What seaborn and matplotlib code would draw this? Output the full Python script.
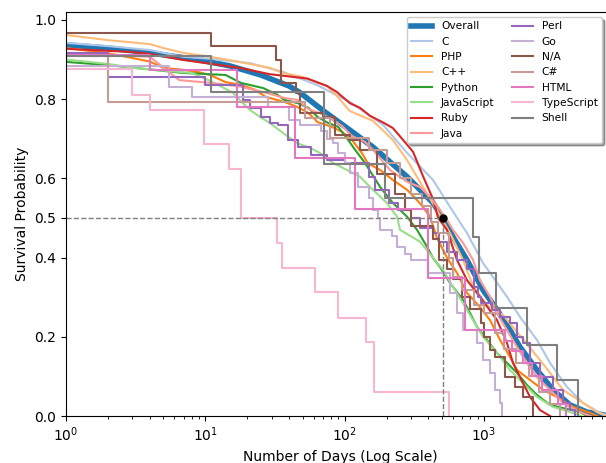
import numpy as np
import pandas as pd
import matplotlib
matplotlib.use("Agg")
import matplotlib.pyplot as plt
import seaborn as sns

# survival curves (days, survival probability)
overall_days = [1, 2, 4, 9, 15, 25, 40, 48, 72, 109, 160, 281, 431, 508, 600, 756, 986, 1243, 1540, 1817, 2405, 3133, 4150, 5495, 7160, 7800]
overall_surv = [0.937, 0.929, 0.917, 0.899, 0.884, 0.861, 0.833, 0.816, 0.768, 0.722, 0.679, 0.604, 0.538, 0.5, 0.452, 0.394, 0.318, 0.268, 0.217, 0.174, 0.116, 0.066, 0.028, 0.010, 0.003, 0.0]

c_days = [1, 2, 4, 6.9, 10.8, 20.9, 36, 63, 109, 189, 281, 431, 571, 756, 986, 1465, 1817, 2405, 2983, 3951, 5147, 6812, 8000]
c_surv = [0.942, 0.934, 0.924, 0.907, 0.902, 0.891, 0.869, 0.836, 0.793, 0.735, 0.664, 0.596, 0.528, 0.462, 0.386, 0.301, 0.25, 0.192, 0.134, 0.073, 0.033, 0.008, 0.0]

php_days = [1, 2, 4, 5, 6.9, 9, 10.8, 14, 18, 23, 27, 37, 46, 55, 64, 81, 96, 113, 133, 147,
            180, 222, 281, 331, 365, 410, 460, 543, 641, 756, 937, 1107, 1306, 1540, 1729, 2145, 2656, 3350, 4365, 5780, 6500]
php_surv = [0.929, 0.916, 0.895, 0.879, 0.874, 0.868, 0.861, 0.843, 0.836, 0.823, 0.806, 0.793, 0.78, 0.765, 0.742, 0.73, 0.717, 0.697, 0.664, 0.638,
            0.621, 0.596, 0.571, 0.545, 0.528, 0.503, 0.45, 0.40, 0.361, 0.311, 0.275, 0.242, 0.192, 0.149, 0.116, 0.091, 0.066, 0.048, 0.023, 0.008, 0.0]

cpp_days = [1, 2, 4, 5, 6.9, 10.8, 15.8, 29, 36, 50, 75, 88, 109, 160, 222, 281, 365, 460, 571, 708, 836, 1053, 1371, 1729, 2145, 2838, 3700, 5147, 6484, 7500]
cpp_surv = [0.962, 0.949, 0.939, 0.929, 0.917, 0.907, 0.897, 0.879, 0.866, 0.856, 0.833, 0.808, 0.770, 0.745, 0.697, 0.646, 0.578, 0.52, 0.462, 0.394, 0.328, 0.28, 0.255, 0.212, 0.172, 0.119, 0.066, 0.033, 0.01, 0.0]

python_days = [1, 2, 7, 14, 18, 26, 33, 37, 46, 55, 64, 76, 90, 106, 119, 140, 180, 222, 281, 331,
               391, 431, 484, 571, 708, 795, 892, 1053, 1243, 1465, 1729, 2039, 2405, 2983, 3700, 4900, 5500]
python_surv = [0.894, 0.886, 0.866, 0.861, 0.841, 0.828, 0.811, 0.798, 0.79, 0.778, 0.755, 0.74, 0.73, 0.697, 0.672, 0.639, 0.578, 0.538, 0.503, 0.47,
               0.427, 0.399, 0.376, 0.336, 0.293, 0.26, 0.225, 0.192, 0.159, 0.134, 0.109, 0.078, 0.053, 0.028, 0.02, 0.01, 0.0]

js_days = [1, 2, 3, 8, 11, 15.8, 18.6, 20.9, 24.7, 29, 36, 45.5, 56.5, 66.6, 82.6, 104, 129, 160, 201, 238, 250,
           348, 431, 508, 600, 708, 836, 986, 1243, 1540, 1908, 2405, 3133, 4150, 5000]
js_surv = [0.90, 0.889, 0.879, 0.866, 0.845, 0.816, 0.79, 0.773, 0.755, 0.74, 0.715, 0.689, 0.677, 0.664, 0.639, 0.621, 0.604, 0.571, 0.538, 0.503, 0.47,
           0.44, 0.40, 0.369, 0.326, 0.285, 0.242, 0.2, 0.159, 0.116, 0.083, 0.048, 0.023, 0.01, 0.0]

ruby_days = [1, 3, 4, 6.9, 17.7, 29, 54, 75, 88, 109, 129, 152, 189, 222, 263, 310, 365, 431, 469, 543, 641, 756, 937, 1243, 1465, 1618, 1908, 2145, 2528, 2983]
ruby_surv = [0.927, 0.919, 0.914, 0.899, 0.879, 0.863, 0.852, 0.833, 0.818, 0.79, 0.778, 0.758, 0.741, 0.727, 0.697, 0.667, 0.606, 0.548, 0.5, 0.47, 0.394, 0.343, 0.301, 0.242, 0.184, 0.134, 0.083, 0.048, 0.015, 0.0]

java_days = [1, 2, 4, 6.5, 11, 17, 26, 37, 46, 55, 68, 81, 96, 113, 140, 160, 212, 281, 348, 410,
             484, 543, 600, 708, 836, 937, 1107, 1243, 1465, 1729, 2039, 2405, 2983, 3700, 4900, 5800]
java_surv = [0.917, 0.912, 0.907, 0.848, 0.841, 0.833, 0.818, 0.803, 0.798, 0.775, 0.763, 0.75, 0.732, 0.707, 0.692, 0.672, 0.621, 0.591, 0.578, 0.553,
             0.52, 0.495, 0.47, 0.437, 0.394, 0.343, 0.301, 0.26, 0.217, 0.174, 0.134, 0.098, 0.066, 0.033, 0.01, 0.0]

perl_days = [1, 2, 10, 18.6, 21, 25, 29, 33, 39, 46, 57, 75, 100, 150, 165, 210, 240, 300, 350, 430,
             480, 543, 640, 756, 850, 900, 950, 1150, 1300, 1540, 1729, 1900, 2145, 2530, 3130, 3700, 4150, 4500]
perl_surv = [0.917, 0.856, 0.836, 0.798, 0.778, 0.755, 0.74, 0.735, 0.697, 0.68, 0.659, 0.647, 0.639, 0.604, 0.571, 0.538, 0.52, 0.5, 0.475, 0.462,
             0.44, 0.414, 0.394, 0.37, 0.326, 0.3, 0.285, 0.268, 0.25, 0.235, 0.2, 0.185, 0.134, 0.098, 0.066, 0.033, 0.015, 0.0]

go_days = [1, 5.5, 8, 28, 40, 48, 68, 75, 82, 90, 100, 110, 125, 150, 160, 175, 180, 220, 238, 270,
           300, 400, 571, 641, 708, 892, 986, 1107, 1200, 1300, 1350]
go_surv = [0.884, 0.831, 0.806, 0.78, 0.747, 0.735, 0.72, 0.70, 0.689, 0.665, 0.64, 0.614, 0.578, 0.55, 0.52, 0.5, 0.47, 0.455, 0.427, 0.41,
           0.394, 0.36, 0.31, 0.26, 0.217, 0.184, 0.141, 0.109, 0.066, 0.033, 0.0]

na_days = [1, 11, 32, 35, 45, 48, 70, 85, 110, 130, 170, 230, 270, 300, 430, 480, 540, 600, 700, 800, 950, 1000, 1107, 1200, 1415, 1680, 1900, 2250]
na_surv = [0.966, 0.934, 0.899, 0.841, 0.816, 0.765, 0.755, 0.71, 0.697, 0.672, 0.61, 0.56, 0.52, 0.48, 0.447, 0.394, 0.37, 0.345, 0.30, 0.27, 0.235, 0.2, 0.167, 0.15, 0.098, 0.073, 0.048, 0.0]

cs_days = [1, 2, 52, 78, 150, 200, 250, 300, 360, 420, 470, 560, 600, 700, 850, 1000, 1200, 1400, 1700, 2100, 2500, 3000, 3500]
cs_surv = [0.909, 0.793, 0.753, 0.702, 0.672, 0.64, 0.60, 0.56, 0.53, 0.49, 0.462, 0.40, 0.35, 0.318, 0.28, 0.26, 0.21, 0.17, 0.134, 0.10, 0.06, 0.03, 0.0]

html_days = [1, 4, 16.9, 44, 119, 397, 731, 1417, 1600, 1900, 2200, 2600, 3400, 3900]
html_surv = [0.912, 0.874, 0.78, 0.652, 0.523, 0.348, 0.217, 0.19, 0.165, 0.134, 0.10, 0.066, 0.03, 0.0]

ts_days = [1, 3, 4, 9.8, 14.8, 18, 32.7, 35.6, 61, 90, 142, 163, 560]
ts_surv = [0.876, 0.81, 0.773, 0.687, 0.623, 0.5, 0.437, 0.374, 0.313, 0.247, 0.187, 0.061, 0.0]

shell_days = [1, 11, 71, 195, 835, 927, 1222, 2028, 3334, 4764]
shell_surv = [0.909, 0.818, 0.636, 0.55, 0.453, 0.362, 0.272, 0.179, 0.091, 0.0]

median_days = 508

series = [
    ("Overall", overall_days, overall_surv),
    ("C", c_days, c_surv),
    ("PHP", php_days, php_surv),
    ("C++", cpp_days, cpp_surv),
    ("Python", python_days, python_surv),
    ("JavaScript", js_days, js_surv),
    ("Ruby", ruby_days, ruby_surv),
    ("Java", java_days, java_surv),
    ("Perl", perl_days, perl_surv),
    ("Go", go_days, go_surv),
    ("N/A", na_days, na_surv),
    ("C#", cs_days, cs_surv),
    ("HTML", html_days, html_surv),
    ("TypeScript", ts_days, ts_surv),
    ("Shell", shell_days, shell_surv),
]
# big groups have many tiny steps -> drawn as a plain line; small groups as stairs
smooth = ["Overall", "C", "PHP", "C++", "Python", "JavaScript", "Ruby", "Java"]

palette = sns.color_palette("tab20", len(series))

fig = plt.figure(figsize=(6.06, 4.63), dpi=100)
ax = fig.add_axes([66 / 606, 47 / 463, 548 / 606, 404 / 463])

for i, (name, d, s) in enumerate(series):
    df = pd.DataFrame({"days": d, "surv": s})
    lw = 4 if name == "Overall" else 1.5
    style = "default" if name in smooth else "steps-post"
    sns.lineplot(data=df, x="days", y="surv", ax=ax, color=palette[i], linewidth=lw,
                 drawstyle=style, label=name, estimator=None, sort=False)

# median marker
ax.plot([1, median_days], [0.5, 0.5], ls="--", color="gray", lw=1)
ax.plot([median_days, median_days], [0, 0.5], ls="--", color="gray", lw=1)
ax.plot([median_days], [0.5], "o", color="black", ms=5, zorder=10)

ax.set_xscale("log")
ax.set_xlim(1, 10 ** (548 / 139.3))
ax.set_ylim(0, 1.02)
ax.set_yticks([0.0, 0.2, 0.4, 0.5, 0.6, 0.8, 1.0])
ax.set_xlabel("Number of Days (Log Scale)")
ax.set_ylabel("Survival Probability")

ax.legend(ncol=2, fontsize=7.7, loc="upper right", shadow=True,
          bbox_to_anchor=(602 / 606, 446 / 463), bbox_transform=fig.transFigure,
          borderaxespad=0, columnspacing=1.6)

fig.savefig("out.png", dpi=100)
